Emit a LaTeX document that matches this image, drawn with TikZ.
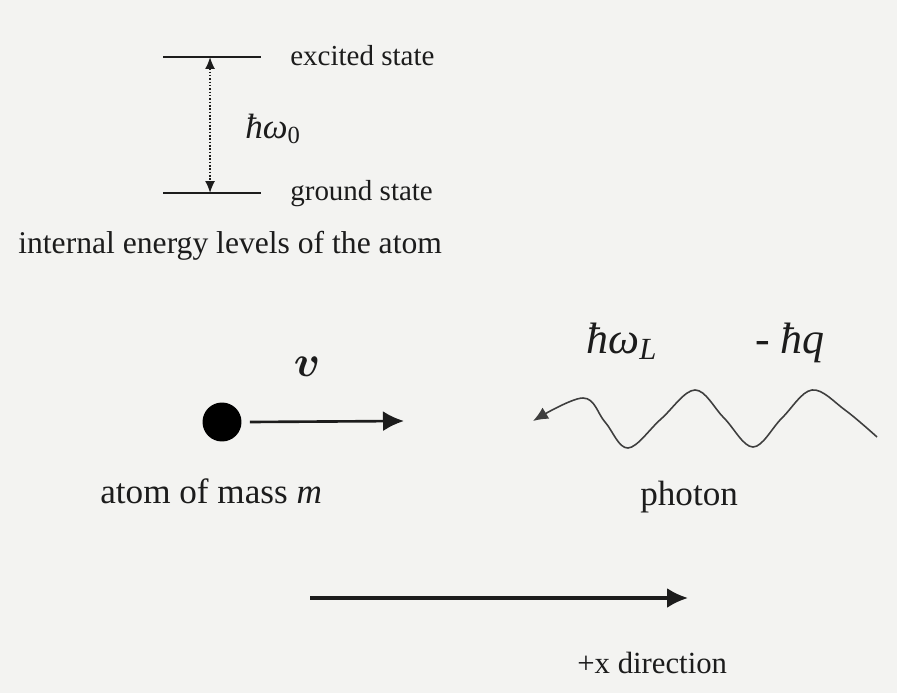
\documentclass[tikz,border=0pt]{standalone}
\usepackage{fontspec}
\setmainfont{Liberation Serif}
\usetikzlibrary{arrows.meta, positioning, calc}
\definecolor{PaperBg}{HTML}{F3F3F1}
\definecolor{InkDark}{HTML}{1C1C1C}
\tikzset{
  level/.style={draw=InkDark, line width=1.6pt},
  lbl/.style={font=\fontsize{16.5}{18}\selectfont, text=InkDark, inner sep=0pt},
  biglbl/.style={font=\fontsize{20}{22}\selectfont, text=InkDark, inner sep=0pt},
  symlbl/.style={font=\fontsize{25}{28}\selectfont\itshape, text=InkDark, inner sep=0pt},
  gap/.style={{Latex[length=2.4mm,width=2mm]}-{Latex[length=2.4mm,width=2mm]},
    densely dotted, line width=0.9pt, draw=InkDark},
  push/.style={-{Latex[length=4.2mm,width=4mm]}, line width=1.5pt, draw=InkDark},
  wave/.style={-{Latex[length=3mm,width=2.6mm]}, line width=0.9pt, draw=InkDark!85},
}

\begin{document}
\begin{tikzpicture}[x=0.02cm, y=-0.02cm]
    \useasboundingbox[fill=PaperBg] (0,0) rectangle (897,693);
    % energy levels
    \coordinate (exL) at (163,57);
    \coordinate (exR) at (261,57);
    \coordinate (grL) at (163,193);
    \coordinate (grR) at (261,193);
    \draw[level] (exL) -- (exR);
    \draw[level] (grL) -- (grR);
    \draw[gap] ($(exL)!0.48!(exR)$) -- ($(grL)!0.48!(grR)$);
    \node[lbl, anchor=base west] (excited) at (290,65) {excited state};
    \node[lbl, anchor=base west] (ground) at (290,200) {ground state};
    \node[lbl, anchor=base west, font=\fontsize{20}{22}\selectfont\itshape] (gapsym) at (245,138)
      {ħω\textsubscript{\upshape 0}};
    \node[lbl, anchor=base west, font=\fontsize{18}{20}\selectfont] (levels) at (18,253)
      {internal energy levels of the atom};
    % atom moving right
    \node[circle, fill=black, minimum size=0.78cm, inner sep=0pt] (atom) at (222,422) {};
    \coordinate (vtip) at (404,421);
    \draw[push] (atom.east) ++(8,0) coordinate (vtail) -- (vtip);
    \node[symlbl, font=\fontsize{36}{38}\selectfont\boldmath, anchor=base] (vel) at (307,376) {$v$};
    \node[biglbl, anchor=base west] (mass) at (100,503) {atom of mass \textit{m}};
    % photon coming in from the right
    \coordinate (wavetip) at (533,421);
    \draw[wave] plot[smooth, tension=0.6] coordinates {(877,437) (845,410) (812,390) (782,418)
      (753,447) (724,418) (695,390) (661,419) (628,448) (605,422) (583,398) (wavetip)};
    \node[symlbl, anchor=base west] (energy) at (586,353) {ħω\textsubscript{L}};
    \node[symlbl, anchor=base west] (recoil) at (755,353) {{\upshape -} ħq};
    \node[biglbl, anchor=base west] (photon) at (640,505) {photon};
    % axis direction
    \coordinate (axL) at (310,598);
    \coordinate (axR) at (688,598);
    \draw[push, line width=1.8pt] (axL) -- (axR);
    \node[lbl, font=\fontsize{17.5}{19}\selectfont, anchor=base west] (xdir) at (577,673)
      {+x direction};
\end{tikzpicture}
\end{document}
